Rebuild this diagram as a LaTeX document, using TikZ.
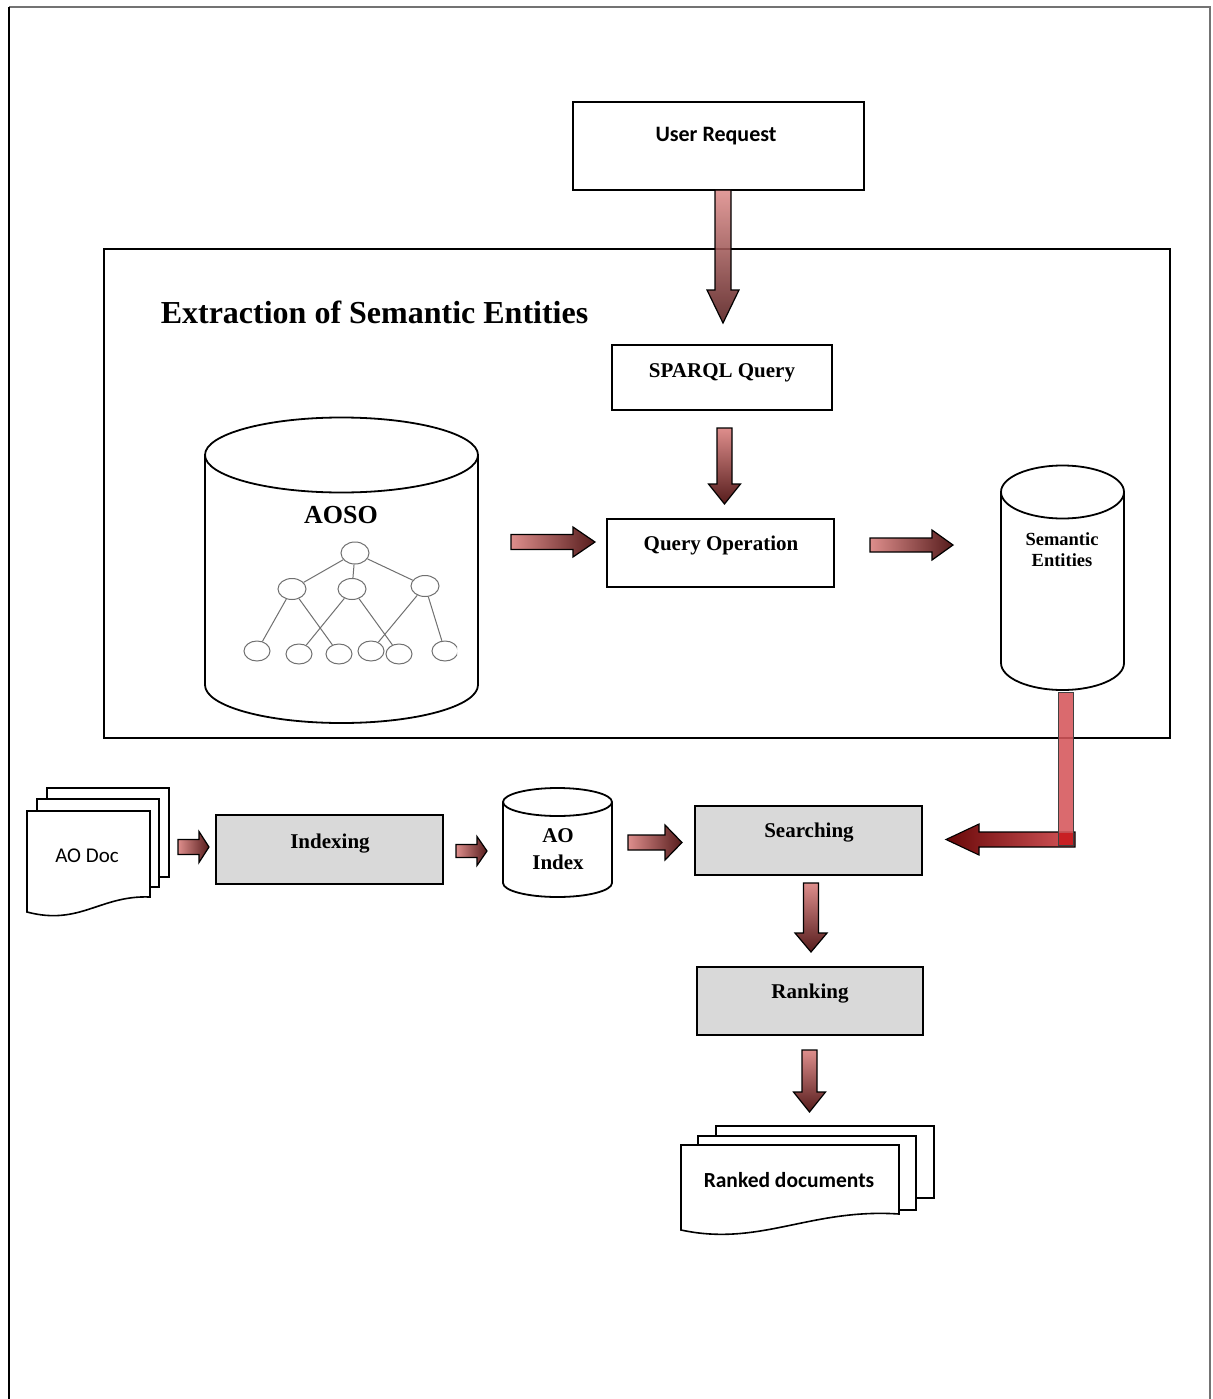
\documentclass[tikz,border=0pt]{standalone}
\usepackage{fontspec}
\setmainfont{Liberation Serif}
\newfontfamily\calibri{Carlito}
\usetikzlibrary{shapes.geometric}

\definecolor{arrlight}{RGB}{222,142,140}
\definecolor{arrdark}{RGB}{86,28,28}
\definecolor{redlight}{RGB}{214,86,90}
\definecolor{reddark}{RGB}{104,8,8}
\definecolor{redjoin}{RGB}{200,32,36}
\definecolor{boxgray}{RGB}{217,217,217}
\definecolor{treegray}{RGB}{112,112,112}

\tikzset{
  plainbox/.style={draw=black, fill=white, line width=1.5pt, inner sep=0pt},
  heavybox/.style={plainbox, line width=2.5pt},
  graybox/.style={draw=black, fill=boxgray, line width=2pt, inner sep=0pt},
  drum/.style={draw=black, fill=white, line width=1.8pt},
  paper/.style={draw=black, fill=white, line width=1.6pt, line join=miter},
  treenode/.style={draw=treegray, ellipse, line width=1pt, inner sep=0pt,
                   minimum width=28pt, minimum height=21pt},
  leafnode/.style={treenode, minimum width=26pt, minimum height=20pt},
  treeedge/.style={draw=treegray, line width=1pt},
  blockarrow/.style={draw=black, line width=1.2pt, line join=miter},
  boxtext/.style={anchor=base, inner sep=0pt, font=\bfseries\fontsize{21}{25}\selectfont},
  sanstext/.style={anchor=base, inner sep=0pt, font=\calibri\bfseries\fontsize{21.5}{25}\selectfont},
}

% vertical block arrow: x centre, top, start of head, tip, shaft half width, head half width
\newcommand\downblock[7][]{%
  \shadedraw[blockarrow, top color=arrlight, bottom color=arrdark, #1]
    (#2-#6,#3) -- (#2+#6,#3) -- (#2+#6,#4) -- (#2+#7,#4) -- (#2,#5)
    -- (#2-#7,#4) -- (#2-#6,#4) -- cycle;}
% horizontal block arrow: y centre, start, start of head, tip, shaft half height, head half height
\newcommand\rightblock[6]{%
  \shadedraw[blockarrow, left color=arrlight, right color=arrdark]
    (#2,#1-#5) -- (#3,#1-#5) -- (#3,#1-#6) -- (#4,#1) -- (#3,#1+#6)
    -- (#3,#1+#5) -- (#2,#1+#5) -- cycle;}

\begin{document}
\begin{tikzpicture}[x=1pt, y=-1pt]
\useasboundingbox (0,0) rectangle (1212,1399);
\fill[white] (0,0) rectangle (1212,1399);

% page frame
\draw[line width=2pt, black!55] (9,7) -- (1210,7) -- (1210,1399);
\draw[line width=1.5pt, black] (9,7) -- (9,1399);

% extraction block
\node[plainbox, minimum width=1066pt, minimum height=489pt] (ext) at (637,493.5) {};
\node[anchor=base, inner sep=0pt, font=\bfseries\fontsize{32}{38}\selectfont]
  (title) at (374.5,323) {Extraction of Semantic Entities};

% user request
\node[heavybox, minimum width=291pt, minimum height=88pt] (ur) at (718.5,146) {};
\node[sanstext, font=\calibri\bfseries\fontsize{22}{26}\selectfont] (urt) at (716,142) {User Request};
\downblock[fill opacity=0.88]{723}{190}{290}{323}{8}{16}

% SPARQL query and query operation
\node[heavybox, minimum width=220pt, minimum height=65pt] (sparql) at (722,377.5) {};
\node[boxtext] (sparqlt) at (722,377) {SPARQL Query};
\downblock{724.5}{428}{484}{504}{7.5}{16}
\node[plainbox, minimum width=227pt, minimum height=68pt] (qo) at (720.5,553) {};
\node[boxtext] (qot) at (721,550) {Query Operation};

% AOSO ontology store
\path[drum] (205,455) -- (205,685)
  arc[start angle=180, end angle=360, x radius=136.5pt, y radius=38pt] -- (478,455);
\draw[drum] (341.5,455) ellipse [x radius=136.5pt, y radius=37.5pt];
\node[anchor=base, inner sep=0pt, font=\bfseries\fontsize{26}{30}\selectfont] (aoso) at (341,523) {AOSO};

% ontology hierarchy
\node[treenode, minimum height=22pt] (r)  at (355,553) {};
\node[treenode] (m1) at (292,589) {};
\node[treenode] (m2) at (352,589) {};
\node[treenode] (m3) at (425,586) {};
\node[leafnode] (l1) at (257,651) {};
\node[leafnode] (l2) at (299,654) {};
\node[leafnode] (l3) at (339,654) {};
\node[leafnode] (l4) at (371,651) {};
\node[leafnode] (l5) at (399,654) {};
\begin{scope}
  \clip (0,0) rectangle (457,1399);
  \node[leafnode] (l6) at (445,651) {};
\end{scope}
\draw[treeedge] (r) -- (m1);
\draw[treeedge] (r) -- (m2);
\draw[treeedge] (r) -- (m3);
\draw[treeedge] (m1) -- (l1);
\draw[treeedge] (m1) -- (l3);
\draw[treeedge] (m2) -- (l2);
\draw[treeedge] (m2) -- (l5);
\draw[treeedge] (m3) -- (l4);
\draw[treeedge] (m3) -- (l6);

\rightblock{542}{511}{573}{595}{7.5}{15}
\rightblock{545}{870}{932}{953}{7}{15}

% semantic entities store
\path[drum] (1001,492) -- (1001,663)
  arc[start angle=180, end angle=360, x radius=61.5pt, y radius=27pt] -- (1124,492);
\draw[drum] (1062.5,492) ellipse [x radius=61.5pt, y radius=26.5pt];
\node[anchor=base, inner sep=0pt, font=\bfseries\fontsize{18.5}{22}\selectfont] (se1) at (1062,545) {Semantic};
\node[anchor=base, inner sep=0pt, font=\bfseries\fontsize{18.5}{22}\selectfont] (se2) at (1062,566) {Entities};

% AO documents
\draw[paper] (47,788) rectangle (169,877);
\draw[paper] (37,799) rectangle (159,887);
\draw[paper] (27,811) -- (150,811) -- (150,897)
  .. controls (100,895) and (80,926) .. (27,912) -- cycle;
\node[anchor=base, inner sep=0pt, font=\calibri\fontsize{21}{25}\selectfont] (aodoc) at (87,862) {AO Doc};
\rightblock{847}{178}{199}{209}{7.5}{15.5}

% indexing
\node[graybox, minimum width=227pt, minimum height=69pt] (idx) at (329.5,849.5) {};
\node[boxtext] (idxt) at (330,848) {Indexing};
\rightblock{851}{456}{477}{487}{6.5}{14.5}

% AO index store
\path[drum] (503,802) -- (503,883)
  arc[start angle=180, end angle=360, x radius=54.5pt, y radius=14pt] -- (612,802);
\draw[drum] (557.5,802) ellipse [x radius=54.5pt, y radius=14pt];
\node[boxtext] (aoi1) at (558,842) {AO};
\node[boxtext] (aoi2) at (558,869) {Index};
\rightblock{842.5}{628}{665}{682}{7.5}{17.5}

% searching and ranking
\node[graybox, minimum width=227pt, minimum height=69pt] (srch) at (808.5,840.5) {};
\node[boxtext] (srcht) at (809,837) {Searching};
\downblock{811}{883}{933}{952}{7.5}{16}
\node[graybox, minimum width=226pt, minimum height=68pt] (rank) at (810,1001) {};
\node[boxtext] (rankt) at (810,998) {Ranking};
\downblock{809.5}{1050}{1092}{1112}{7.5}{16}

% entities fed into searching
\shadedraw[blockarrow, line width=1.1pt, left color=reddark, right color=redlight]
  (1075,832) -- (979,832) -- (979,824) -- (946,839.5) -- (979,855) -- (979,847)
  -- (1075,847) -- cycle;
\draw[fill=redlight, fill opacity=0.88, draw=black!75, line width=0.9pt] (1058,692) rectangle (1073,845);
\fill[redjoin] (1058.5,832.5) rectangle (1072.5,844.5);

% ranked documents
\draw[paper] (716,1126) rectangle (934,1198);
\draw[paper] (698,1136) rectangle (916,1210);
\draw[paper] (681,1145) -- (899,1145) -- (899,1214)
  .. controls (810,1208) and (760,1247) .. (681,1230) -- cycle;
\node[sanstext] (ranked) at (789,1187) {Ranked documents};
\end{tikzpicture}
\end{document}
